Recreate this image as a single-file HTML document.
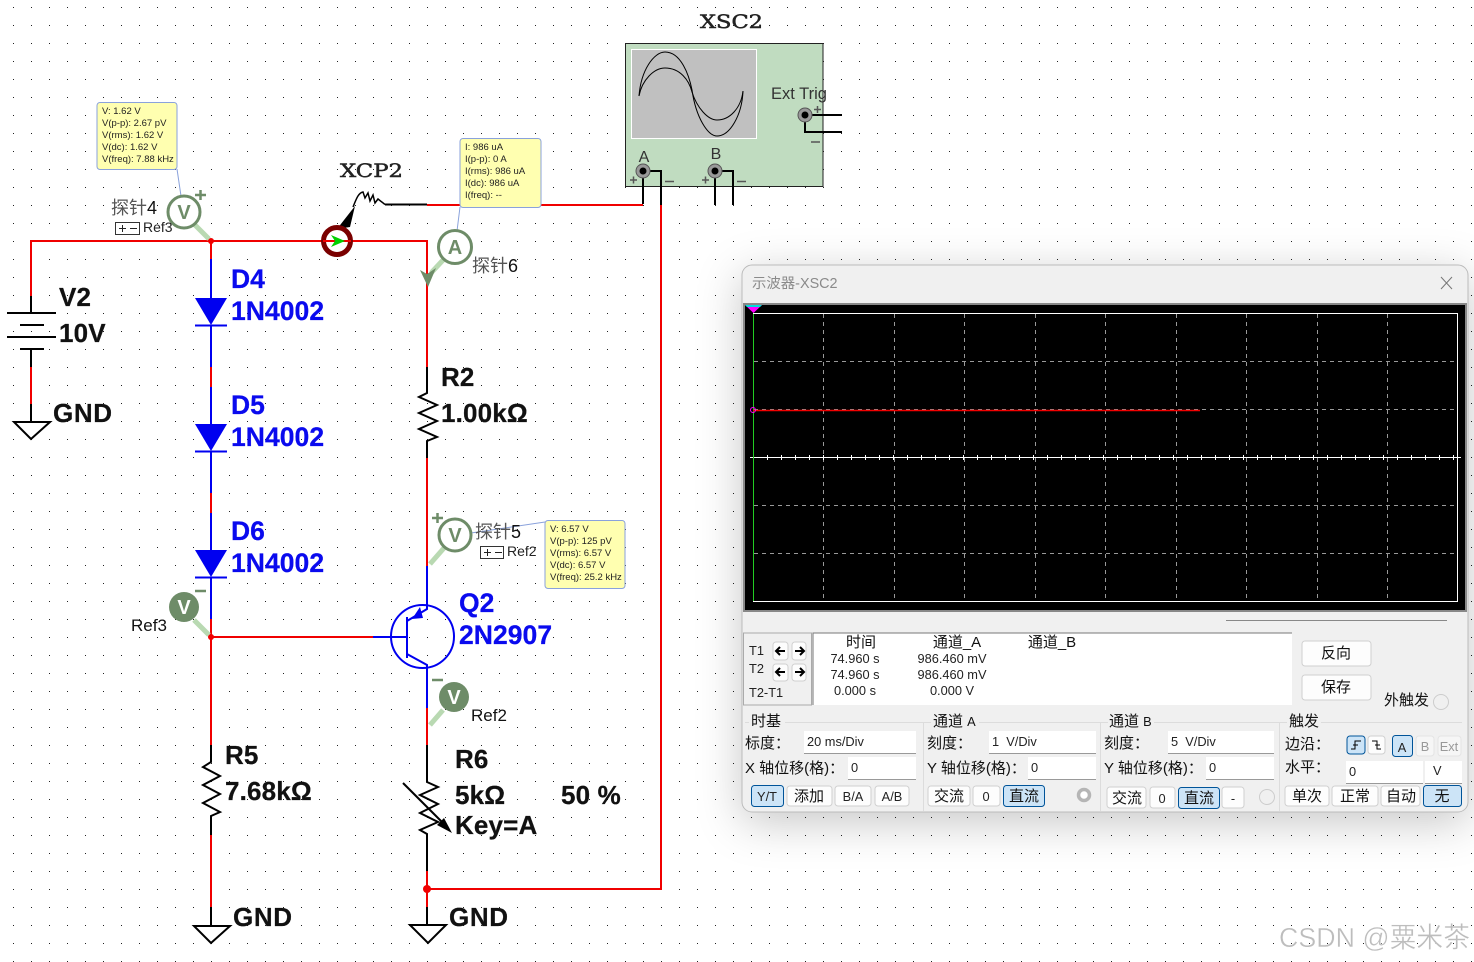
<!DOCTYPE html>
<html><head><meta charset="utf-8"><style>
html,body{margin:0;padding:0;background:#fff}
svg{display:block;position:absolute;left:0;top:0}
text{font-family:"Liberation Sans","Noto Sans CJK SC",sans-serif;white-space:pre}
.b{font-weight:bold;font-size:26px;fill:#111;stroke:#111;stroke-width:.25;letter-spacing:.15px}
.bl{font-weight:bold;font-size:26.5px;fill:#0a0aee;stroke:#0a0aee;stroke-width:.25;letter-spacing:.05px}
.tt{font-size:9.5px;fill:#222}
.ui{font-size:15px;fill:#111}
.s{font-size:12.8px;fill:#222}
.c{text-anchor:middle}
.btn{fill:#fdfdfd;stroke:#d0d0d0;stroke-width:1}
.on{fill:#cce4f7;stroke:#005499;stroke-width:1}
.inp{fill:#fff;stroke:none}
.inl{stroke:#999;stroke-width:1}
.r{stroke:#f00000;stroke-width:2;fill:none}
.k{stroke:#000;stroke-width:2;fill:none}
.u{stroke:#0000f0;stroke-width:2;fill:none}
.sv{stroke:#6e8c68;stroke-width:3;fill:#fff}
.st{stroke:#b9d9b2;stroke-width:5;fill:none}
.gd{stroke:#999;stroke-width:1;stroke-dasharray:4 4;fill:none}
.tip{fill:#ffffb0;stroke:#8aa2dc;stroke-width:1}
</style></head><body>
<svg width="1474" height="962" viewBox="0 0 1474 962" xmlns="http://www.w3.org/2000/svg">
<defs>
<pattern id="d" width="18" height="18" patternUnits="userSpaceOnUse"><rect x="13" y="7" width="1" height="1" fill="#222"/></pattern>
<filter id="sh" x="-10%" y="-10%" width="120%" height="125%"><feDropShadow dx="0" dy="10" stdDeviation="22" flood-color="#000" flood-opacity=".22"/></filter>
</defs>
<rect width="1474" height="962" fill="#fff"/>
<rect width="1474" height="962" fill="url(#d)"/>

<!-- Wires -->
<path class="r" d="M31 296V241H427V367"/>
<path class="k" d="M31 296V313M31 349V367M31 404V421"/>
<path class="r" d="M31 367V404"/>
<path class="k" d="M7 313H56M20 325H44M7 337H56M20 349H44"/>
<path class="k" d="M14 422H50L31 439Z"/>

<path class="r" d="M211 241V259M211 367V387M211 493V513M211 619V745M211 637H373M211 835V907"/>
<path class="u" d="M211 259V298M211 325V367M211 387V424M211 451V493M211 513V550M211 577V619"/>
<g fill="#0000f0"><path d="M195 298H227L211 325Z"/><path d="M195 424H227L211 451Z"/><path d="M195 550H227L211 577Z"/></g>
<path class="u" d="M195 325.500H227M195 451.500H227M195 577.500H227"/>
<circle cx="211" cy="241" r="3" fill="#f00000"/><circle cx="211" cy="637" r="3" fill="#f00000"/>
<path class="k" d="M211 745V762L203 767 220 776 203 785 220 794 203 803 220 812 211 816V835M211 907V925"/>
<path class="k" d="M194 926H230L211 943Z"/>

<path class="k" d="M427 367V393L419 397 437 405 419 413 437 421 419 429 437 437 427 441V458"/>
<path class="r" d="M427 458V566"/>
<path class="u" d="M427 566V605"/>
<circle cx="422.500" cy="636.500" r="31.500" class="u"/>
<path class="u" d="M373 637H407M407 617V658M407 621L427 609V605M407 654L427 665V708"/>
<path d="M420 607L423 618 412 619Z" fill="#0000f0"/>
<path class="k" d="M427 745V782L438 787 420 795 438 804 420 813 438 822 420 830 427 834V871M427 907V925"/>
<path class="r" d="M427 708V745M427 871V907M427 889H661V205M427 205H643"/>
<path d="M403 783L446 826" stroke="#000" stroke-width="2"/>
<path d="M452 833L437 825 444 818Z" fill="#000"/>
<path class="k" d="M410 925H446L428 943Z"/>
<circle cx="427" cy="889" r="4" fill="#f00000"/>

<!-- XCP -->
<path class="k" d="M385 204.500H427" />
<path d="M353 207C356 200 358 193 363 192L365 198 368 193 370 201 373 195 375 203 378 199 385 204.500" stroke="#000" stroke-width="1.500" fill="none"/>
<path d="M337 229L355 206 350 227Z" fill="#000"/>
<circle cx="337" cy="241" r="13.500" stroke="#7a0000" stroke-width="5" fill="#fff"/>
<path class="r" d="M323 241H351"/>
<path d="M331 235L345 241 331 247 335 241Z" fill="#00d000"/>
<text x="340" y="177" font-size="19" style="font-family:'DejaVu Serif',serif;" fill="#222" stroke="#222" stroke-width=".5" textLength="63" lengthAdjust="spacingAndGlyphs">XCP2</text>

<!-- Tips -->
<path d="M177 169L181 196M460 207L457 231M471 533L545 522" stroke="#8aa2dc" fill="none"/>
<rect class="tip" x="97" y="102.500" width="80" height="67" rx="3"/>
<rect class="tip" x="460" y="138.500" width="81" height="69" rx="3"/>
<rect class="tip" x="545" y="520.500" width="80" height="68" rx="3"/>
<g class="tt">
<text class="tt" x="102" y="114">V: 1.62 V</text><text class="tt" x="102" y="126">V(p-p): 2.67 pV</text><text class="tt" x="102" y="138">V(rms): 1.62 V</text><text class="tt" x="102" y="150">V(dc): 1.62 V</text><text class="tt" x="102" y="162">V(freq): 7.88 kHz</text>
<text class="tt" x="465" y="150">I: 986 uA</text><text class="tt" x="465" y="162">I(p-p): 0 A</text><text class="tt" x="465" y="174">I(rms): 986 uA</text><text class="tt" x="465" y="186">I(dc): 986 uA</text><text class="tt" x="465" y="198">I(freq): --</text>
<text class="tt" x="550" y="532">V: 6.57 V</text><text class="tt" x="550" y="544">V(p-p): 125 pV</text><text class="tt" x="550" y="556">V(rms): 6.57 V</text><text class="tt" x="550" y="568">V(dc): 6.57 V</text><text class="tt" x="550" y="580">V(freq): 25.2 kHz</text>
</g>

<!-- Probes -->
<path class="st" d="M194 224L209 239"/>
<circle class="sv" cx="184" cy="212" r="16"/><text x="184" y="219" font-size="20" class="c" fill="#6e8c68" font-weight="bold">V</text>
<path d="M195 195H206M200.500 190V200" stroke="#6e8c68" stroke-width="2.500"/>
<text x="111" y="214" font-size="18" fill="#555">探针<tspan fill="#111">4</tspan></text>
<rect x="115.500" y="222.500" width="24" height="12" fill="#fff" stroke="#333"/><path d="M119 228.500H126M122.500 225V232M130 228.500H137" stroke="#222"/>
<text x="143" y="232" font-size="14" fill="#222">Ref3</text>

<path class="st" d="M444 259L431 273"/>
<path d="M428 287L420 270 427 274 436 268Z" fill="#6e8c68"/>
<circle class="sv" cx="455" cy="247" r="16.500"/><text x="455" y="254" font-size="20" class="c" fill="#6e8c68" font-weight="bold">A</text>
<text x="472" y="272" font-size="18" fill="#555">探针<tspan fill="#111">6</tspan></text>

<path class="st" d="M444 548L430 564"/>
<circle class="sv" cx="455" cy="535" r="16"/><text x="455" y="542" font-size="20" class="c" fill="#6e8c68" font-weight="bold">V</text>
<path d="M432 518H443M437.500 513V523" stroke="#6e8c68" stroke-width="2.500"/>
<text x="475" y="538" font-size="18" fill="#555">探针<tspan fill="#111">5</tspan></text>
<rect x="480.500" y="546.500" width="23" height="12" fill="#fff" stroke="#333"/><path d="M484 552.500H491M487.500 549V556M495 552.500H502" stroke="#222"/>
<text x="507" y="556" font-size="14" fill="#222">Ref2</text>

<path class="st" d="M194 620L209 635"/>
<circle cx="184" cy="607" r="15" fill="#6e8c68"/><text x="184" y="614" font-size="20" class="c" fill="#fff" font-weight="bold">V</text>
<path d="M195 591H206" stroke="#6e8c68" stroke-width="2.500"/>
<text x="131" y="631" font-size="17" fill="#111">Ref3</text>

<path class="st" d="M443 710L430 725"/>
<circle cx="454" cy="697" r="15" fill="#6e8c68"/><text x="454" y="704" font-size="20" class="c" fill="#fff" font-weight="bold">V</text>
<path d="M432 680H443" stroke="#6e8c68" stroke-width="2.500"/>
<text x="471" y="721" font-size="17" fill="#111">Ref2</text>

<!-- Labels -->
<text class="b" x="59" y="306">V2</text><text class="b" x="59" y="342">10V</text><text class="b" x="53" y="422" style="letter-spacing:.6px">GND</text>
<text class="bl" x="231" y="288">D4</text><text class="bl" x="231" y="320">1N4002</text>
<text class="bl" x="231" y="414">D5</text><text class="bl" x="231" y="446">1N4002</text>
<text class="bl" x="231" y="540">D6</text><text class="bl" x="231" y="572">1N4002</text>
<text class="b" x="441" y="386">R2</text><text class="b" x="441" y="422">1.00kΩ</text>
<text class="bl" x="459" y="612">Q2</text><text class="bl" x="459" y="644">2N2907</text>
<text class="b" x="225" y="764">R5</text><text class="b" x="225" y="800">7.68kΩ</text>
<text class="b" x="455" y="768">R6</text><text class="b" x="455" y="804">5kΩ</text><text class="b" x="561" y="804">50 %</text><text class="b" x="455" y="834">Key=A</text>
<text class="b" x="233" y="926" style="letter-spacing:.6px">GND</text><text class="b" x="449" y="926" style="letter-spacing:.6px">GND</text>

<!-- XSC2 block -->
<text x="700" y="28" font-size="19" style="font-family:'DejaVu Serif',serif;" fill="#222" stroke="#222" stroke-width=".5" textLength="63" lengthAdjust="spacingAndGlyphs">XSC2</text>
<rect x="625.500" y="43.500" width="197.500" height="143" fill="#c0dcc0" stroke="#222"/>
<rect x="631.500" y="49.500" width="125" height="89" fill="#c0c0c0" stroke="#fff"/>
<path d="M639 96C641 70 654 52 665 52 681 52 689 75 692 90 696 118 708 136 717 136 730 136 742 115 743 91" fill="none" stroke="#000"/>
<path d="M639 96C642 80 654 68 665 68 680 68 689 80 692 92 697 108 708 120 717 120 730 120 741 108 743 91" fill="none" stroke="#000"/>
<text x="771" y="99" font-size="16.500" fill="#333">Ext Trig</text>
<text x="644" y="162" font-size="16" class="c" fill="#333">A</text><text x="716" y="159" font-size="16" class="c" fill="#333">B</text>
<path class="k" d="M643 171V204M643 171H661V205M715 171V205M715 171H733V205M805 115H842M805 115V132H842"/>
<g fill="#999" stroke="#555"><circle cx="643" cy="171" r="7"/><circle cx="715" cy="171" r="7"/><circle cx="805" cy="115" r="7"/></g>
<g fill="#000"><circle cx="643" cy="171" r="3.500"/><circle cx="715" cy="171" r="3.500"/><circle cx="805" cy="115" r="3.500"/></g>
<path d="M630 180H637M633.500 176.500V183.500M665 181.500H674M702 180H709M705.500 176.500V183.500M737 181.500H746M814 109.500H821M817.500 106V113M811 142H820" stroke="#555" stroke-width="1.500"/>

<!-- Oscilloscope window -->
<rect x="742" y="265" width="726" height="547" rx="10" fill="#f0f0f0" stroke="#bbb" filter="url(#sh)"/>
<text x="752" y="288" font-size="14.400" fill="#8a8a8a">示波器-XSC2</text>
<path d="M1441 277L1452 289M1452 277L1441 289" stroke="#777" stroke-width="1"/>
<rect x="743" y="303" width="724" height="309" fill="#888"/>
<rect x="745" y="305" width="720" height="305" fill="#000"/>
<rect x="753.500" y="313.500" width="704" height="288" fill="none" stroke="#fff"/>
<path class="gd" d="M823.500 314V601M894.500 314V601M964.500 314V601M1035.500 314V601M1105.500 314V601M1176.500 314V601M1246.500 314V601M1317.500 314V601M1387.500 314V601M754 361.500H1457M754 409.500H1457M754 505.500H1457M754 553.500H1457"/>
<path d="M750 457.500H1461" stroke="#fff"/>
<path d="M750 457.500H1461" stroke="#fff" stroke-width="5" stroke-dasharray="1 13" stroke-dashoffset="-3"/>
<path d="M753.500 314V601" stroke="#22cc22"/>
<path d="M753 410.500H1200" stroke="#f00000" stroke-width="1.500"/>
<circle cx="753" cy="410" r="2.500" fill="none" stroke="#f0f"/>
<path d="M745 305H762L753.500 313Z" fill="#f0f"/><path d="M745 305H762L760 307H747Z" fill="#0dd"/>

<path d="M1226 620.500H1447" stroke="#888"/>
<rect x="743.500" y="633" width="68" height="72" fill="#f0f0f0" stroke="#aaa"/>
<rect x="813" y="633" width="479" height="72" fill="#fff"/><path d="M813 705V633H1292" stroke="#777" stroke-width="1" fill="none"/>
<text class="s" x="749" y="655">T1</text><text class="s" x="749" y="673">T2</text><text class="s" x="749" y="697">T2-T1</text>
<g class="btn"><rect class="btn" x="773" y="642" width="15" height="18" rx="3"/><rect class="btn" x="792" y="642" width="14" height="18" rx="3"/><rect class="btn" x="773" y="664" width="15" height="17" rx="3"/><rect class="btn" x="792" y="664" width="14" height="17" rx="3"/></g>
<path d="M776 651H785M780 647L776 651 780 655M795 651H804M800 647L804 651 800 655M776 672H785M780 668L776 672 780 676M795 672H804M800 668L804 672 800 676" stroke="#000" stroke-width="2" fill="none"/>
<g class="s">
<text class="ui c" x="861" y="647">时间</text><text class="ui c" x="957" y="647">通道_A</text><text class="ui c" x="1052" y="647">通道_B</text>
<text class="s c" x="855" y="663">74.960 s</text><text class="s c" x="952" y="663">986.460 mV</text>
<text class="s c" x="855" y="679">74.960 s</text><text class="s c" x="952" y="679">986.460 mV</text>
<text class="s c" x="855" y="695">0.000 s</text><text class="s c" x="952" y="695">0.000 V</text>
</g>
<rect class="btn" x="1302" y="641" width="69" height="25" rx="3"/><text class="ui c" x="1336" y="658">反向</text>
<rect class="btn" x="1302" y="675" width="69" height="25" rx="3"/><text class="ui c" x="1336" y="692">保存</text>
<text class="ui" x="1384" y="705">外触发</text>
<circle cx="1441" cy="702" r="7.500" fill="#f0f0f0" stroke="#ccc"/>

<!-- Group frames -->
<path d="M745 722.500H1462M923.500 722V811M1100.500 722V811M1279.500 722V811" stroke="#dcdcdc"/>
<g>
<rect x="749" y="714" width="36" height="14" fill="#f0f0f0"/><text class="ui" x="751" y="726">时基</text>
<rect x="931" y="714" width="48" height="14" fill="#f0f0f0"/><text class="ui" x="933" y="726">通道 <tspan style="font-size:12.800px">A</tspan></text>
<rect x="1108" y="714" width="46" height="14" fill="#f0f0f0"/><text class="ui" x="1109" y="726">通道 <tspan style="font-size:12.800px">B</tspan></text>
<rect x="1287" y="714" width="34" height="14" fill="#f0f0f0"/><text class="ui" x="1289" y="726">触发</text>
</g>
<text class="ui" x="745" y="748">标度：</text><text class="ui" x="745" y="773">X 轴位移(格)：</text>
<text class="ui" x="927" y="748">刻度：</text><text class="ui" x="927" y="773">Y 轴位移(格)：</text>
<text class="ui" x="1104" y="748">刻度：</text><text class="ui" x="1104" y="773">Y 轴位移(格)：</text>
<text class="ui" x="1285" y="749">边沿：</text><text class="ui" x="1285" y="772">水平：</text>

<g>
<rect class="inp" x="804" y="731" width="112" height="22"/><rect class="inp" x="848" y="757" width="68" height="22"/>
<rect class="inp" x="989" y="731" width="107" height="22"/><rect class="inp" x="1028" y="757" width="68" height="22"/>
<rect class="inp" x="1168" y="731" width="106" height="22"/><rect class="inp" x="1206" y="757" width="68" height="22"/>
<rect class="inp" x="1346" y="761" width="77" height="22"/><rect class="inp" x="1425" y="761" width="37" height="22"/>
<path class="inl" d="M804 753.500H916M848 779.500H916M989 753.500H1096M1028 779.500H1096M1168 753.500H1274M1206 779.500H1274M1346 783.500H1423M1425 783.500H1462" />
</g>
<text class="s" x="807" y="746">20 ms/Div</text><text class="s" x="851" y="772">0</text>
<text class="s" x="992" y="746" xml:space="preserve">1  V/Div</text><text class="s" x="1031" y="772">0</text>
<text class="s" x="1171" y="746" xml:space="preserve">5  V/Div</text><text class="s" x="1209" y="772">0</text>
<text class="s" x="1349" y="776">0</text><text class="s" x="1433" y="775">V</text>

<rect class="on" x="751.500" y="785.500" width="32" height="21" rx="3"/><text class="s c" x="767" y="801">Y/T</text>
<rect class="btn" x="787" y="786" width="45" height="20" rx="3"/><text class="ui c" x="809" y="801">添加</text>
<rect class="btn" x="835" y="786" width="36" height="20" rx="3"/><text class="s c" x="853" y="801">B/A</text>
<rect class="btn" x="875" y="786" width="34" height="20" rx="3"/><text class="s c" x="892" y="801">A/B</text>
<rect class="btn" x="928" y="786" width="42" height="20" rx="3"/><text class="ui c" x="949" y="801">交流</text>
<rect class="btn" x="973" y="786" width="27" height="20" rx="3"/><text class="s c" x="986" y="801">0</text>
<rect class="on" x="1003.500" y="785.500" width="41" height="21" rx="3"/><text class="ui c" x="1024" y="801">直流</text>
<circle cx="1084" cy="795" r="5.500" fill="#fff" stroke="#b5b5b5" stroke-width="3.500"/>
<rect class="btn" x="1107" y="787" width="39" height="21" rx="3"/><text class="ui c" x="1127" y="803">交流</text>
<rect class="btn" x="1150" y="787" width="25" height="21" rx="3"/><text class="s c" x="1162" y="803">0</text>
<rect class="on" x="1178.500" y="787.500" width="41" height="21" rx="3"/><text class="ui c" x="1199" y="803">直流</text>
<rect class="btn" x="1222" y="787" width="22" height="21" rx="3"/><text class="s c" x="1233" y="803">-</text>
<circle cx="1267" cy="797" r="7.500" fill="#f0f0f0" stroke="#ccc"/>

<rect class="on" x="1347" y="736" width="18" height="18" rx="3"/><path d="M1351 749H1355V741H1361M1353 745H1358" stroke="#000" fill="none"/>
<rect class="btn" x="1368" y="736" width="17" height="18" rx="3"/><path d="M1372 741H1377V749H1381M1375 745H1380" stroke="#000" fill="none"/>
<rect class="on" x="1392.500" y="735.500" width="20" height="21" rx="3"/><text class="s c" x="1402" y="752">A</text>
<rect x="1416" y="736" width="18" height="20" rx="3" fill="#f6f6f6" stroke="#e4e4e4"/><text class="s c" x="1425" y="751" style="fill:#999">B</text>
<rect x="1438" y="736" width="23" height="20" rx="3" fill="#f6f6f6" stroke="#e4e4e4"/><text class="s c" x="1449" y="751" style="fill:#999">Ext</text>

<rect class="btn" x="1285" y="786" width="44" height="20" rx="3"/><text class="ui c" x="1307" y="801">单次</text>
<rect class="btn" x="1332" y="786" width="46" height="20" rx="3"/><text class="ui c" x="1355" y="801">正常</text>
<rect class="btn" x="1381" y="786" width="39" height="20" rx="3"/><text class="ui c" x="1401" y="801">自动</text>
<rect class="on" x="1423.500" y="785.500" width="38" height="21" rx="3"/><text class="ui c" x="1442" y="801">无</text>

<text x="1279" y="947" font-size="28" fill="#bdbdbd" stroke="#fff" stroke-width=".4" textLength="191" lengthAdjust="spacingAndGlyphs">CSDN @粟米茶</text>
</svg>
</body></html>
